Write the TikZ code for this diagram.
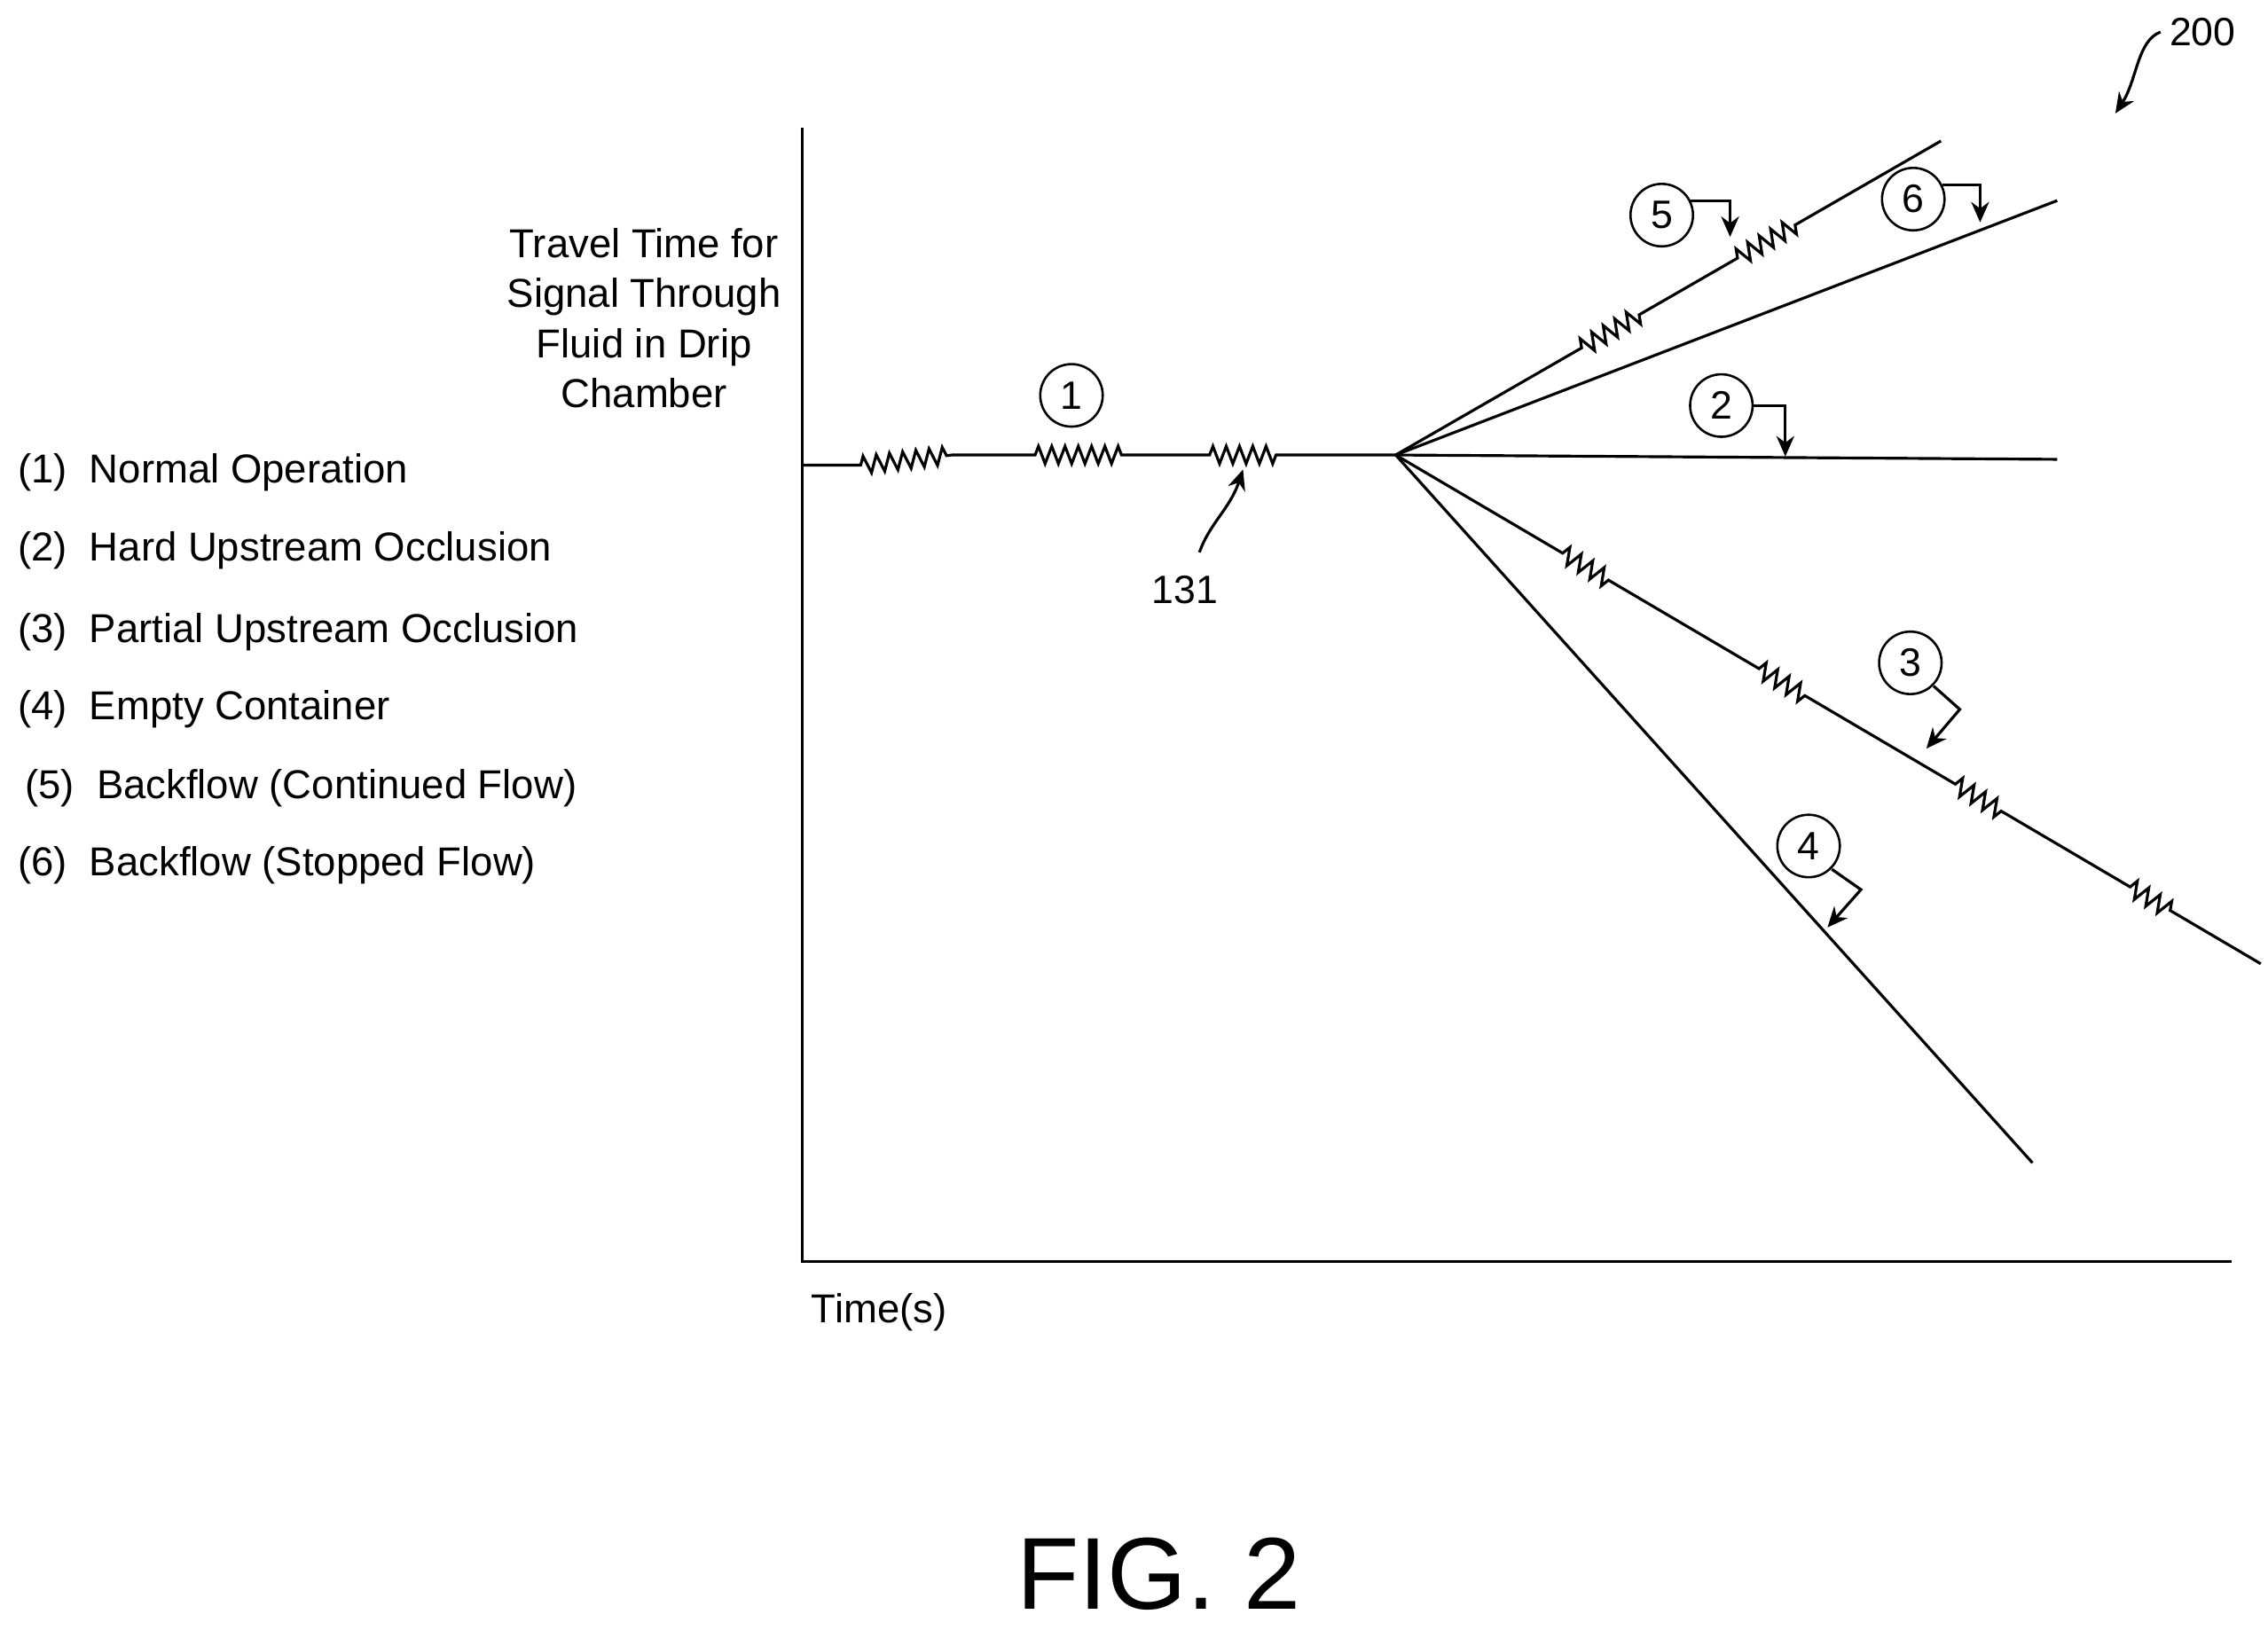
\documentclass[tikz,border=0pt]{standalone}
\usepackage{fontspec}
\setmainfont{Liberation Sans}
\usetikzlibrary{decorations.pathmorphing,arrows.meta,calc}
\begin{document}
\begin{tikzpicture}[x=0.02cm,y=-0.02cm,
  ln/.style={line width=1.1pt},
  zz/.style={decorate,decoration={zigzag,segment length=5.2pt,amplitude=3.4pt}},
  circ/.style={draw,circle,line width=0.9pt,minimum size=0.86cm,inner sep=0pt,font=\fontsize{15.5}{15.5}\selectfont},
  lab/.style={anchor=west,font=\fontsize{15.8}{19}\selectfont},
  arr/.style={line width=1.1pt,-{Stealth[length=8pt,width=7pt]}}]
\useasboundingbox (0,0) rectangle (1560,1121);
% axes
\coordinate (top) at (552,88); \coordinate (org) at (552,868); \coordinate (xr) at (1535,868);
\draw[ln] (top) -- (org) -- (xr);
\node[font=\fontsize{15.8}{19.6}\selectfont,align=center] (ylab) at (443,219) {Travel Time for\\Signal Through\\Fluid in Drip\\Chamber};
\node[lab] (xlab) at (552,903) {Time(s)};
\node[font=\fontsize{40}{40}\selectfont] (fig) at (797,1083) {FIG. 2};
% legend
\node[lab] (l1) at (6,325) {(1)\ \ Normal Operation};
\node[lab] (l2) at (6,379) {(2)\ \ Hard Upstream Occlusion};
\node[lab] (l3) at (6,435) {(3)\ \ Partial Upstream Occlusion};
\node[lab] (l4) at (6,488) {(4)\ \ Empty Container};
\node[lab] (l5) at (11,542) {(5)\ \ Backflow (Continued Flow)};
\node[lab] (l6) at (6,595) {(6)\ \ Backflow (Stopped Flow)};
% 200
\node[font=\fontsize{15.5}{15.5}\selectfont] (n200) at (1515,22) {200};
\coordinate (a200) at (1455,78);
\draw[arr] (n200.west) .. controls (1470,28) and (1470,55) .. (a200);
% baseline
\coordinate (b0) at (552,320); \coordinate (o) at (960,313);
\draw[ln] (b0) -- (592,320) decorate[zz]{-- (655,313)} -- (712,313) decorate[zz]{-- (772,313)} -- (832,313) decorate[zz]{-- (882,313)} -- (o);
\node[circ] (c1) at (737,272) {1};
\node[font=\fontsize{15.5}{15.5}\selectfont] (n131) at (815,406) {131};
\coordinate (a131) at (855,323);
\draw[arr] (825,380) .. controls (832,360) and (846,350) .. (a131);
% lines
\coordinate (e5) at (1335,97); \coordinate (e6) at (1415,138);
\coordinate (e2) at (1415,316); \coordinate (e3) at (1555,663); \coordinate (e4) at (1398,800);
\draw[ln] (o) -- ($(o)!0.341!(e5)$) decorate[zz]{-- ($(o)!0.453!(e5)$)} -- ($(o)!0.627!(e5)$) decorate[zz]{-- ($(o)!0.739!(e5)$)} -- (e5);
\draw[ln] (o) -- (e6);
\draw[ln] (o) -- (e2);
\draw[ln] (o) -- (e4);
\draw[ln] (o) -- ($(o)!0.193!(e3)$) decorate[zz]{-- ($(o)!0.252!(e3)$)} -- ($(o)!0.420!(e3)$) decorate[zz]{-- ($(o)!0.479!(e3)$)} -- ($(o)!0.647!(e3)$) decorate[zz]{-- ($(o)!0.703!(e3)$)} -- ($(o)!0.849!(e3)$) decorate[zz]{-- ($(o)!0.899!(e3)$)} -- (e3);
% callouts
\node[circ] (c5) at (1143,148) {5};
\node[circ] (c6) at (1316,137) {6};
\node[circ] (c2) at (1184,279) {2};
\node[circ] (c3) at (1314,456) {3};
\node[circ] (c4) at (1244,582) {4};
\coordinate (a5) at (1190,163); \coordinate (a6) at (1362,153);
\coordinate (a2) at (1228,314); \coordinate (a3) at (1325,515); \coordinate (a4) at (1257,638);
\draw[arr] (1163,138) -| (a5);
\draw[arr] (1336,127) -| (a6);
\draw[arr] (c2.east) -| (a2);
\draw[arr] (1330,472) -- (1348,488) -- (a3);
\draw[arr] (1260,598) -- (1280,612) -- (a4);
\end{tikzpicture}
\end{document}
